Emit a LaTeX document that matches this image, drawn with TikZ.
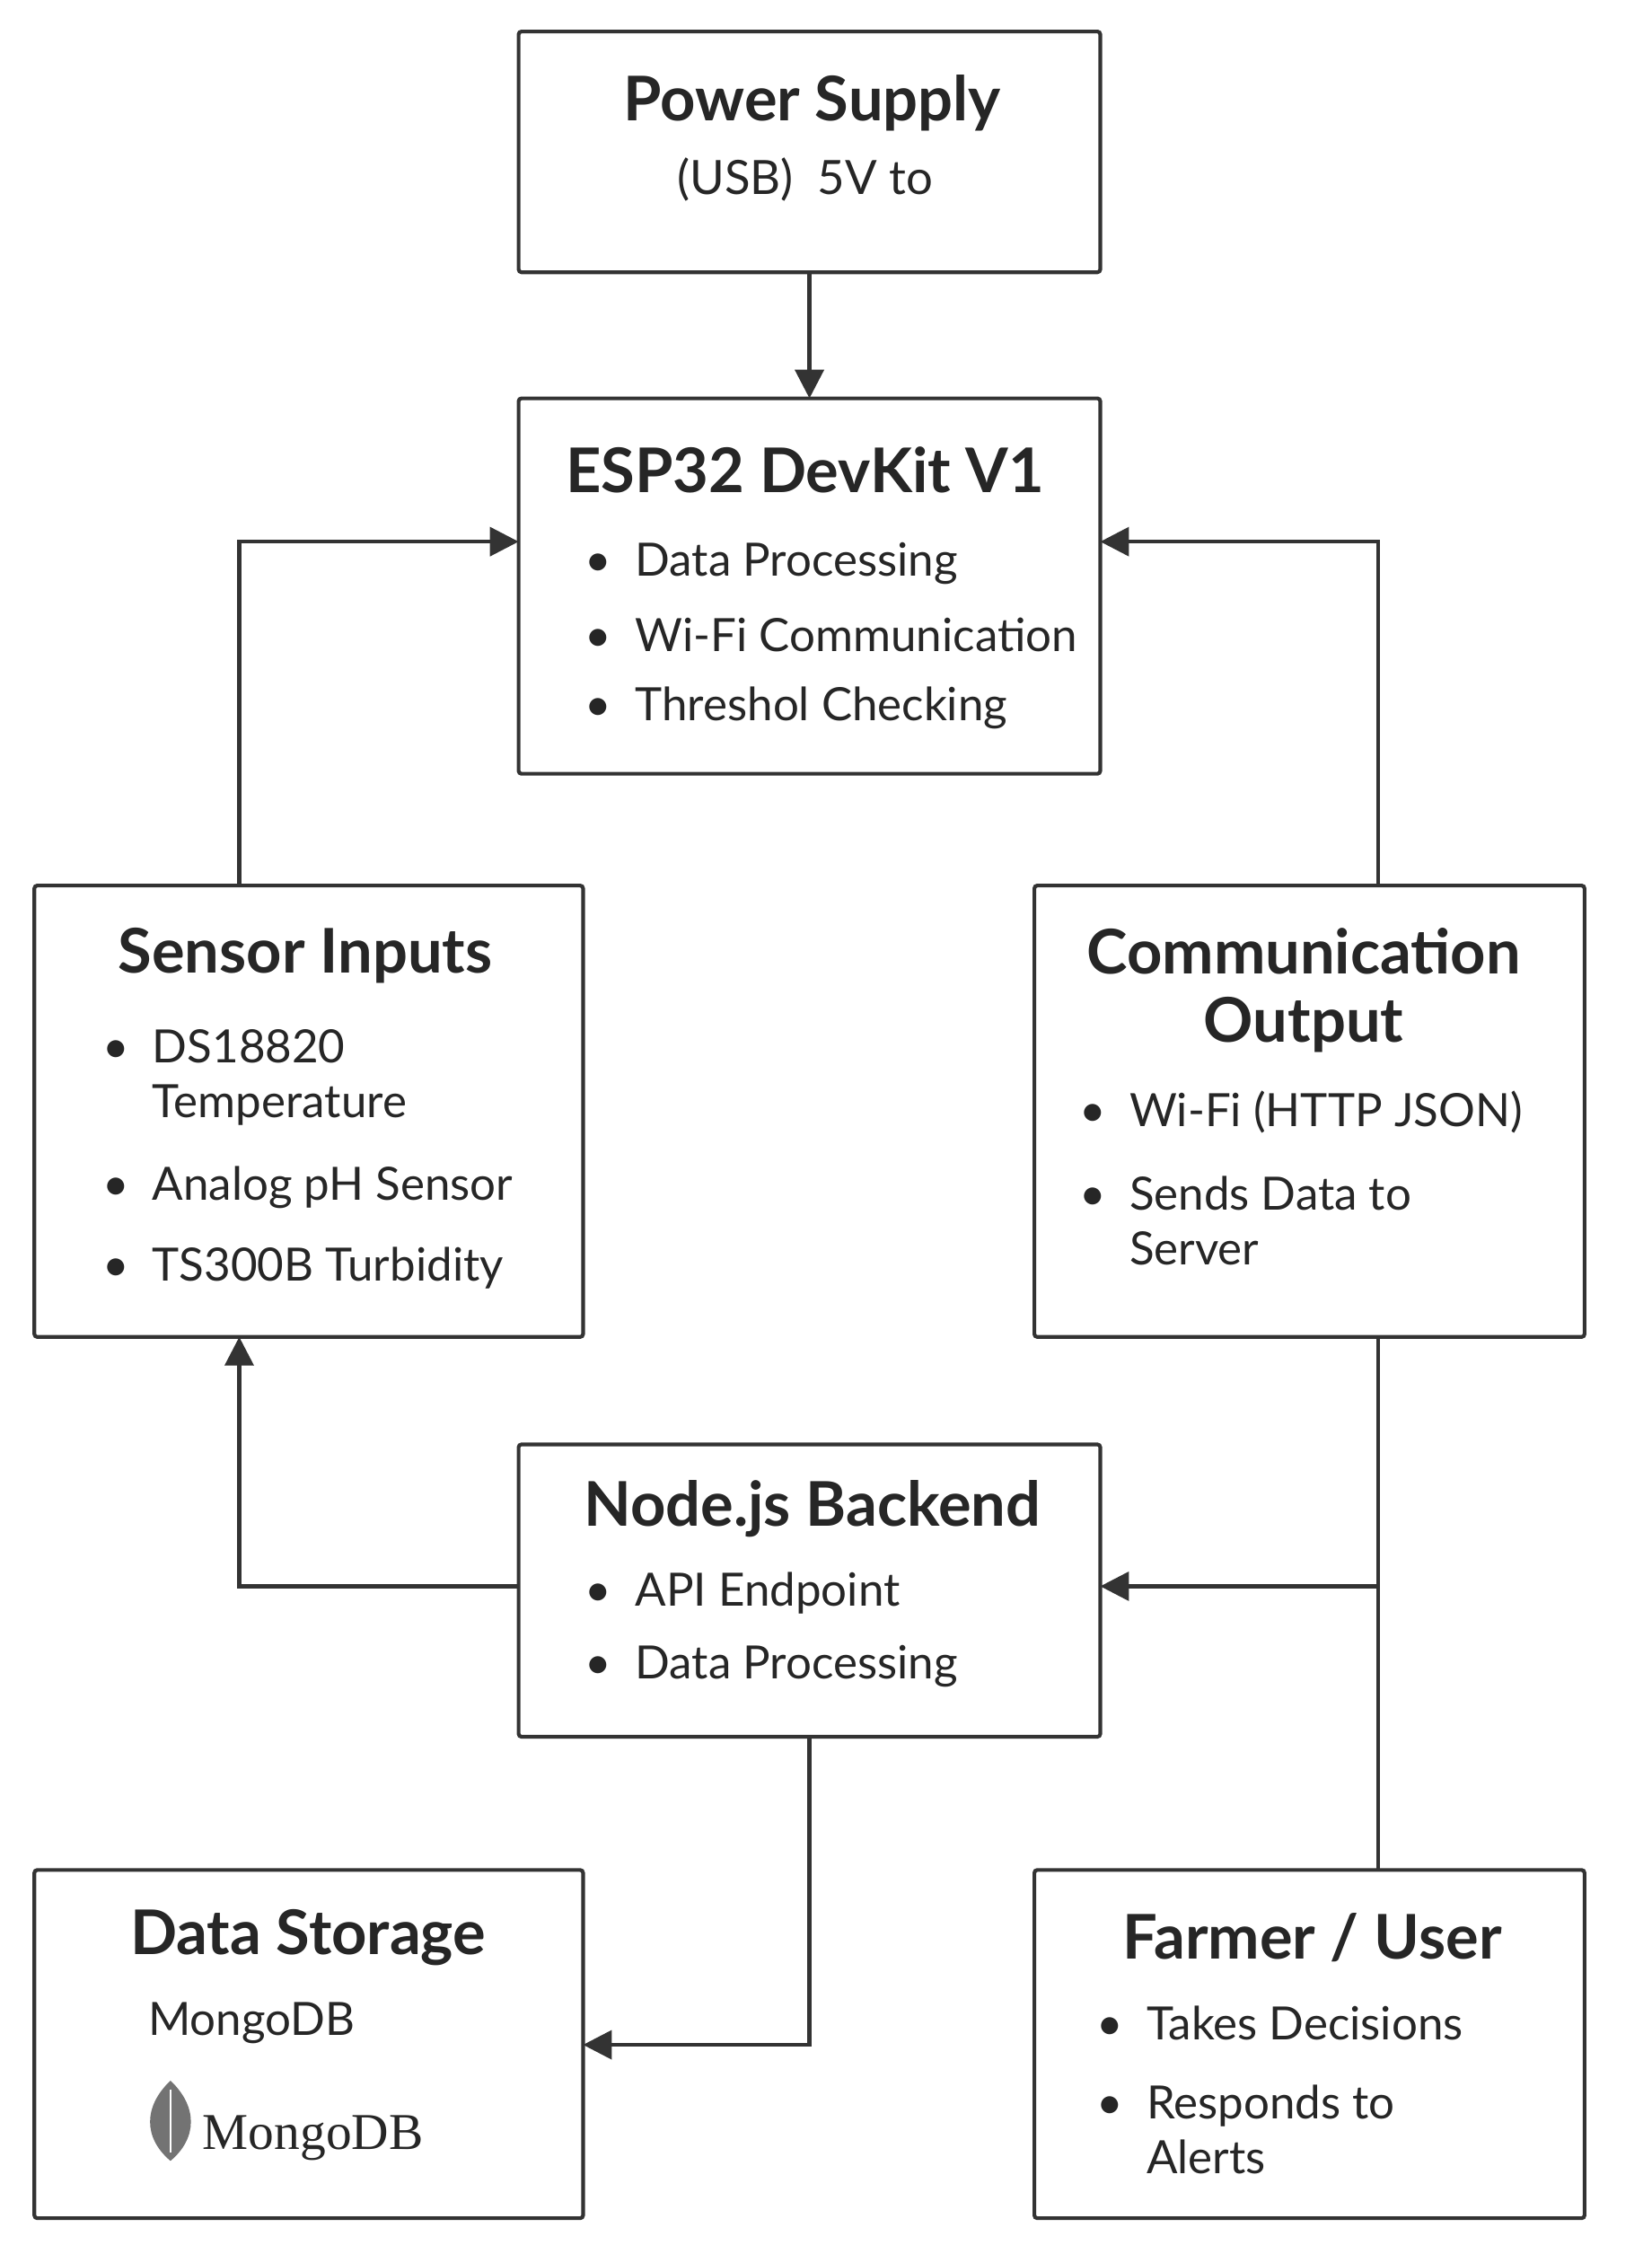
\documentclass[tikz,border=0pt]{standalone}
\usepackage{fontspec}
\setmainfont{Lato}
\newfontfamily\logofont{Liberation Serif}
\usetikzlibrary{arrows.meta}
\begin{document}
\begin{tikzpicture}[x=1pt,y=-1pt,
  box/.style={draw=black!80,line width=2.6pt,rounded corners=2pt},
  ttl/.style={font=\fontsize{43}{48}\selectfont\bfseries,text=black!85,align=center},
  txt/.style={font=\fontsize{32}{40}\selectfont,text=black!85,anchor=west,align=left},
  arr/.style={draw=black!80,line width=2.6pt,-{Triangle[length=20pt,width=20pt]}},
  ln/.style={draw=black!80,line width=2.6pt}]
\useasboundingbox (0,0) rectangle (1153,1573);
\fill[white] (0,0) rectangle (1153,1573);
% boxes
\draw[box] (362,22) rectangle (768,190);
\draw[box] (362,278) rectangle (768,540);
\draw[box] (24,618) rectangle (407,933);
\draw[box] (722,618) rectangle (1106,933);
\draw[box] (362,1008) rectangle (768,1212);
\draw[box] (24,1305) rectangle (407,1548);
\draw[box] (722,1305) rectangle (1106,1548);
% texts
\node[ttl] (t1) at (567,72) {Power Supply};
\node[font=\fontsize{33}{34}\selectfont,text=black!85] (s1) at (562,125) {(USB)\ \ 5V to};
\node[ttl] (t2) at (562,328) {ESP32 DevKit V1};
\node[txt] (b21) at (405,393) {\textbullet\ \ Data Processing};
\node[txt] (b22) at (405,443) {\textbullet\ \ Wi-Fi Communication};
\node[txt] (b23) at (405,494) {\textbullet\ \ Threshol Checking};
\node[ttl] (t3) at (213,667) {Sensor Inputs};
\node[txt] (b31) at (68,752) {\textbullet\ \ \parbox[t]{260pt}{DS18820\\[-2pt]Temperature}};
\node[txt] (b32) at (68,829) {\textbullet\ \ Analog pH Sensor};
\node[txt] (b33) at (68,885) {\textbullet\ \ TS300B Turbidity};
\node[ttl,align=center,font=\fontsize{43}{48}\selectfont\bfseries] (t4) at (910,691) {Communication\\Output};
\node[txt] (b41) at (750,776) {\textbullet\ \ Wi-Fi (HTTP JSON)};
\node[txt] (b42) at (750,852) {\textbullet\ \ \parbox[t]{260pt}{Sends Data to\\[-2pt]Server}};
\node[ttl] (t5) at (567,1053) {Node.js Backend};
\node[txt] (b51) at (405,1112) {\textbullet\ \ API Endpoint};
\node[txt] (b52) at (405,1163) {\textbullet\ \ Data Processing};
\node[ttl] (t6) at (215,1352) {Data Storage};
\node[txt] (m6) at (100,1412) {MongoDB};
\fill[black!55] (119,1452) .. controls (100,1470) and (100,1492) .. (119,1508) .. controls (138,1492) and (138,1470) .. (119,1452);
\draw[white,line width=1pt] (119,1458) -- (119,1502);
\node[font=\logofont\fontsize{36}{40}\selectfont,text=black!85,anchor=west] (logo) at (138,1492) {MongoDB};
\node[ttl] (t7) at (916,1352) {Farmer / User};
\node[txt] (b71) at (762,1412) {\textbullet\ \ Takes Decisions};
\node[txt] (b72) at (762,1486) {\textbullet\ \ \parbox[t]{260pt}{Responds to\\[-2pt]Alerts}};
% connectors
\coordinate (p1) at (565,190); \coordinate (p2) at (565,278);
\draw[arr] (p1) -- (p2);
\coordinate (sT) at (167,618); \coordinate (eL) at (362,378);
\draw[arr] (sT) |- (eL);
\coordinate (cT) at (962,618); \coordinate (eR) at (768,378);
\draw[arr] (cT) |- (eR);
\coordinate (cB) at (962,933); \coordinate (fT) at (962,1305); \coordinate (j) at (962,1107);
\draw[ln] (cB) -- (fT);
\coordinate (nR) at (768,1107);
\draw[arr] (j) -- (nR);
\coordinate (nL) at (362,1107); \coordinate (sB) at (167,933);
\draw[arr] (nL) -| (sB);
\coordinate (nB) at (565,1212); \coordinate (dR) at (407,1427);
\draw[arr] (nB) |- (dR);
\end{tikzpicture}
\end{document}
